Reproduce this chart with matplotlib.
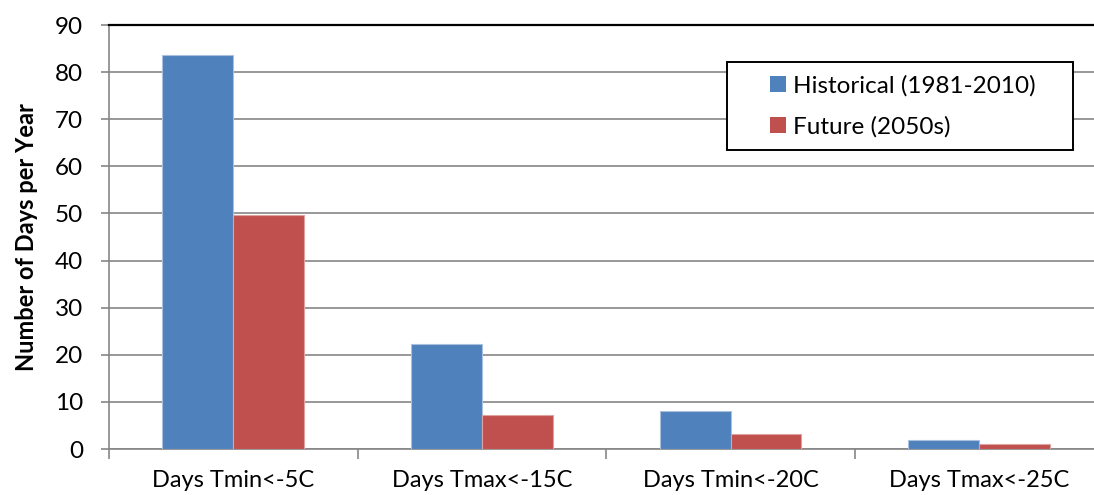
import matplotlib as mpl
import matplotlib.pyplot as plt
from matplotlib.patches import Rectangle
import numpy as np

mpl.rcParams["font.family"] = ["Lato", "DejaVu Sans"]

categories = ["Days Tmin<-5C", "Days Tmax<-15C", "Days Tmin<-20C", "Days Tmax<-25C"]
historical = [83.6, 22.3, 8.1, 2.0]
future = [49.7, 7.3, 3.2, 1.1]
series_names = ["Historical (1981-2010)", "Future (2050s)"]

blue = "#4F81BD"
red = "#C0504D"
grid_gray = "#868686"

fig = plt.figure(figsize=(10.94, 4.95), dpi=100)
# plot area runs a little past the right edge of the figure
ax = fig.add_axes([109 / 1094, 1 - 449 / 495, 994.5 / 1094, 424 / 495])

x = np.arange(len(categories))
w = 0.285
ax.bar(x - w / 2, historical, w, color=blue, edgecolor="#A9C0DE", lw=0.8,
       label=series_names[0], zorder=3)
ax.bar(x + w / 2, future, w, color=red, edgecolor="#DCA3A2", lw=0.8,
       label=series_names[1], zorder=3)

ax.set_xlim(-0.5, len(categories) - 0.5)
ax.set_ylim(0, 90)
ax.set_yticks(np.arange(0, 91, 10))
ax.yaxis.grid(True, color=grid_gray, lw=1.2, zorder=0)
ax.set_axisbelow(True)

ax.set_xticks(x)
ax.set_xticklabels(categories, fontsize=17)
ax.set_xticks(np.arange(-0.5, len(categories)), minor=True)
ax.tick_params(axis="x", which="major", length=0, pad=15)
ax.tick_params(axis="x", which="minor", length=7, color=grid_gray, width=1.2)
ax.tick_params(axis="y", length=6, color=grid_gray, width=1.2, labelsize=17.5, pad=12.5)

for side in ["left", "bottom"]:
    ax.spines[side].set_color(grid_gray)
    ax.spines[side].set_linewidth(1.2)
ax.spines["right"].set_visible(False)
ax.spines["top"].set_color("black")
ax.spines["top"].set_linewidth(1.6)

ax.set_ylabel("Number of Days per Year", fontsize=17, fontweight="bold")
ax.yaxis.set_label_coords((38 - 109) / 994.5, 0.5)

# legend entries without their own frame; the box is drawn separately
leg = ax.legend(loc="center left", bbox_to_anchor=(770 / 1094, 1 - 106 / 495),
                bbox_transform=fig.transFigure, fontsize=17.5, frameon=False,
                handlelength=0.65, handleheight=0.65, handletextpad=0.3,
                labelspacing=0.8, borderpad=0, borderaxespad=0)
for h in leg.legend_handles:
    h.set_edgecolor("none")
leg.set_zorder(6)
ax.add_patch(Rectangle((727 / 1094, 1 - 150 / 495), 346 / 1094, 88 / 495,
                       transform=fig.transFigure, facecolor="white",
                       edgecolor="black", lw=1.4, zorder=5, clip_on=False))

fig.savefig("out.png", dpi=100)
